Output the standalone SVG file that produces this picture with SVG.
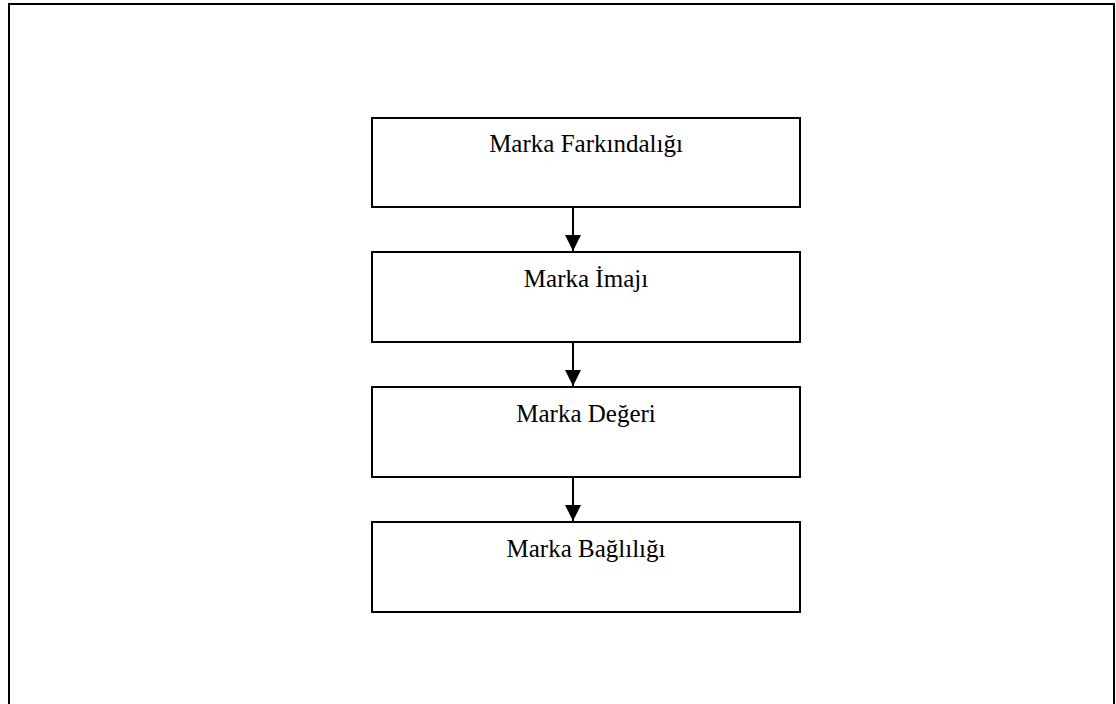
<svg xmlns="http://www.w3.org/2000/svg" width="1116" height="704" viewBox="0 0 1116 704">
<defs>
<marker id="ah" markerWidth="16" markerHeight="16" viewBox="0 0 16 16" refX="16" refY="8" orient="auto" markerUnits="userSpaceOnUse">
<path d="M0,0 L16,8 L0,16 z" fill="#000"/>
</marker>
</defs>
<style>
.box{fill:#fff;stroke:#000;stroke-width:2}
.lbl{font-family:"Liberation Serif","Times New Roman",serif;font-size:25px;fill:#000;text-anchor:middle}
.con{stroke:#000;stroke-width:2;fill:none}
</style>
<rect x="0" y="0" width="1116" height="704" fill="#fff"/>
<rect x="9" y="4" width="1105" height="720" fill="none" stroke="#000" stroke-width="2"/>
<g id="n1"><rect class="box" x="372" y="118" width="428" height="89"/><text class="lbl" x="586" y="152">Marka Farkındalığı</text></g>
<g id="n2"><rect class="box" x="372" y="252" width="428" height="90"/><text class="lbl" x="586" y="287">Marka İmajı</text></g>
<g id="n3"><rect class="box" x="372" y="387" width="428" height="90"/><text class="lbl" x="586" y="422">Marka Değeri</text></g>
<g id="n4"><rect class="box" x="372" y="522" width="428" height="90"/><text class="lbl" x="586" y="557">Marka Bağlılığı</text></g>
<g id="connectors">
<line class="con" x1="573" y1="207" x2="573" y2="251" marker-end="url(#ah)"/>
<line class="con" x1="573" y1="342" x2="573" y2="386" marker-end="url(#ah)"/>
<line class="con" x1="573" y1="477" x2="573" y2="521" marker-end="url(#ah)"/>
</g>
</svg>
